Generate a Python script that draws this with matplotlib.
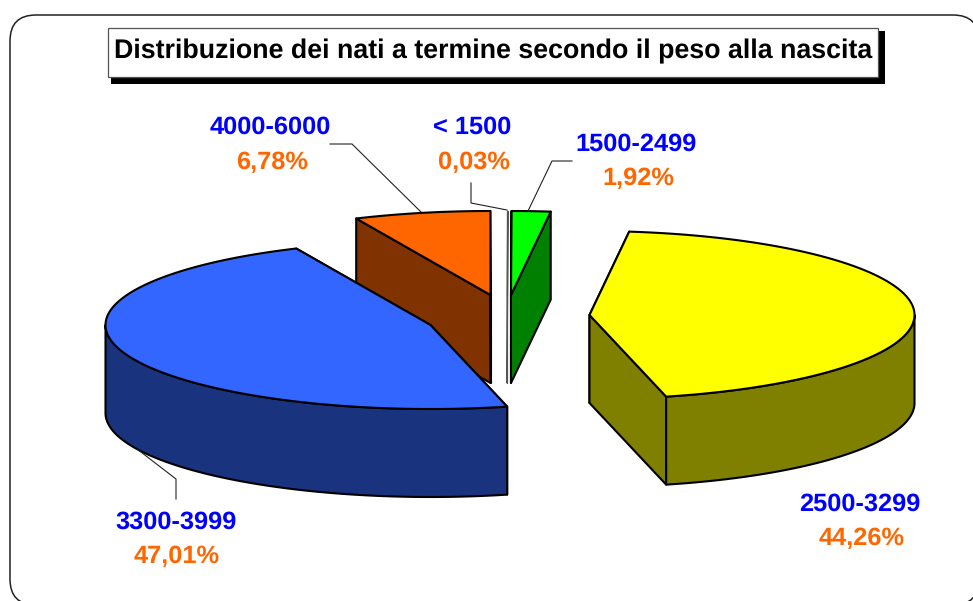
import numpy as np
import matplotlib
matplotlib.use("Agg")
import matplotlib.pyplot as plt
from matplotlib.patches import Polygon, FancyBboxPatch, Rectangle

# ---- data, clockwise from 12 o'clock
categories = ["< 1500", "1500-2499", "2500-3299", "3300-3999", "4000-6000"]
shares = [0.03, 1.92, 44.26, 47.01, 6.78]
title = "Distribuzione dei nati a termine secondo il peso alla nascita"

# ---- style and layout (pixels of the 973x601 figure)
top_colors = ["#FFFFFF", "#00FF00", "#FFFF00", "#3366FF", "#FF6600"]
side_colors = ["#FFFFFF", "#008000", "#808000", "#1A337F", "#803300"]
apexes = [(507.0, 295), (511.0, 295), (589.5, 315), (430.5, 325), (490.5, 295)]
RX, RY, DEPTH = 325, 84, 88
label_pos = [(472, 127.5, 474, 162.5), (636, 144.5, 638, 178.5), (860, 504.5, 862, 538.5),
             (176, 522.5, 177, 556.5), (270, 127.5, 272, 162.5)]
leaders = [[(471, 183), (471, 203), (507, 210)],
           [(572, 161), (552, 161), (528, 211)],
           None,
           [(176, 499), (176, 479), (137, 449)],
           [(330, 144), (352, 144), (421, 212)]]
draw_order = [4, 0, 1, 2, 3]
LW = 1.5
R = 26

plt.rcParams["font.family"] = ["Liberation Sans", "DejaVu Sans"]
plt.rcParams["text.hinting"] = "no_hinting"
fig = plt.figure(figsize=(9.73, 6.01), dpi=100, facecolor="white")
ax = fig.add_axes([0, 0, 1, 1])
ax.set_xlim(0, 973)
ax.set_ylim(601, 0)
ax.axis("off")

# rounded frame, running off the right and bottom edges
ax.add_patch(FancyBboxPatch((10 + R, 15 + R), 979 - 10 - 2 * R, 605 - 15 - 2 * R,
                            boxstyle=f"round,pad={R},rounding_size={R}",
                            fc="white", ec="#222222", lw=1.1, zorder=0))

# title box with hard shadow
ax.add_patch(Rectangle((111, 31), 774, 53, fc="black", ec="none", zorder=1))
ax.add_patch(Rectangle((107.5, 27.5), 770, 49.5, fc="white", ec="#555555", lw=0.9, zorder=2))
ax.text(493.5, 58.5, title, ha="center", va="baseline", fontsize=19.3,
        fontweight="bold", color="#000000", zorder=3)

# cumulative angles from the values
edges = np.cumsum([0] + shares) / sum(shares) * 2 * np.pi


def pt(apex, th, dz=0.0):
    return (apex[0] + RX * np.sin(th), apex[1] - RY * np.cos(th) + dz)


z = 5
for i in draw_order:
    a0, a1 = edges[i], edges[i + 1]
    apex = apexes[i]
    side = side_colors[i]
    # the sliver is so thin that it only shows as a fine grey line
    ec = "black" if i else "#555555"
    lw = LW if i else 0.8
    # radial walls
    for th in (a0, a1):
        p = pt(apex, th)
        wall = [apex, p, (p[0], p[1] + DEPTH), (apex[0], apex[1] + DEPTH)]
        ax.add_patch(Polygon(wall, closed=True, fc=side, ec=ec, lw=lw,
                             joinstyle="round", zorder=z))
        z += 1
    # outer wall, front half only
    lo, hi = max(a0, np.pi / 2), min(a1, 3 * np.pi / 2)
    if hi > lo:
        ths = np.linspace(lo, hi, 120)
        upper = [pt(apex, t) for t in ths]
        lower = [pt(apex, t, DEPTH) for t in ths[::-1]]
        ax.add_patch(Polygon(upper + lower, closed=True, fc=side, ec=ec,
                             lw=lw, joinstyle="round", zorder=z))
        z += 1
    # top face
    ths = np.linspace(a0, a1, 200)
    ax.add_patch(Polygon([apex] + [pt(apex, t) for t in ths], closed=True,
                         fc=top_colors[i], ec=ec, lw=lw,
                         joinstyle="round", zorder=z))
    z += 1

# labels and leaders
for i, cat in enumerate(categories):
    x0, y0, x1, y1 = label_pos[i]
    ax.text(x0, y0, cat, ha="center", va="center", fontsize=18.3,
            fontweight="bold", color="#0000FF", zorder=100)
    ax.text(x1, y1, f"{shares[i]:.2f}%".replace(".", ","), ha="center", va="center",
            fontsize=18.3, fontweight="bold", color="#FF6600", zorder=100)
    if leaders[i]:
        xs, ys = zip(*leaders[i])
        ax.plot(xs, ys, color="#222222", lw=0.8, zorder=100)

fig.savefig("out.png", dpi=100, facecolor="white")
